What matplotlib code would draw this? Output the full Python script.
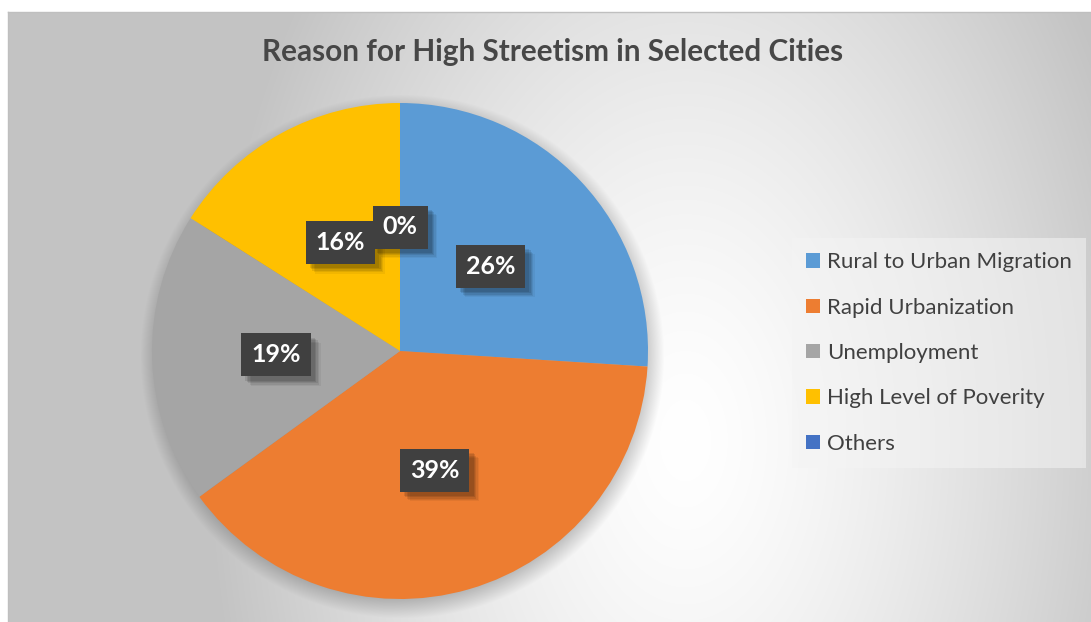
import matplotlib
matplotlib.use('Agg')
import matplotlib.pyplot as plt
import matplotlib.patheffects as pe
import numpy as np

# data
labels = ['Rural to Urban Migration', 'Rapid Urbanization', 'Unemployment',
          'High Level of Poverity', 'Others']
values = [26, 39, 19, 16, 0]
colors = ['#5B9BD5', '#ED7D31', '#A5A5A5', '#FFC000', '#4472C4']
title = 'Reason for High Streetism in Selected Cities'

W, H = 1091, 622
cx, cy, R = 400, 351, 248  # pie centre / radius in pixels

fig = plt.figure(figsize=(W / 100, H / 100), dpi=100)
fig.patch.set_facecolor('white')

# background: radial grey-white gradient + soft pie shadow
bx0, by0 = 8, 12
yy, xx = np.mgrid[by0:H, bx0:W].astype(float)
d = np.sqrt(((xx - 685) / 480.0) ** 2 + ((yy - 440) / 760.0) ** 2)
bg = 255 - 60 * np.clip(d, 0, 1) ** 1.4
dist = np.sqrt((xx - (cx + 2)) ** 2 + (yy - (cy + 5)) ** 2)
blur = 14.0
sh = np.clip((R + blur - dist) / (2 * blur), 0, 1)
bg = bg * (1 - 0.3 * sh)
img = np.dstack([bg, bg, bg]) / 255.0
axbg = fig.add_axes([bx0 / W, 0, 1 - bx0 / W, 1 - by0 / H])
axbg.imshow(img, aspect='auto', interpolation='bilinear')
axbg.axis('off')
# thin border line on top / left
fig.add_artist(plt.Line2D([bx0 / W, 1], [1 - by0 / H, 1 - by0 / H], color='#bfbfbf', lw=1))
fig.add_artist(plt.Line2D([bx0 / W, bx0 / W], [0, 1 - by0 / H], color='#bfbfbf', lw=1))

# pie axes
ax = fig.add_axes([(cx - R) / W, (H - cy - R) / H, 2 * R / W, 2 * R / H])
wedges, texts, autotexts = ax.pie(values, colors=colors, startangle=90, counterclock=False,
                                  autopct='%1.0f%%', pctdistance=0.5, radius=1,
                                  wedgeprops=dict(linewidth=0))
ax.set_xlim(-1, 1)
ax.set_ylim(-1, 1)
ax.axis('off')

shadow = [pe.SimplePatchShadow(offset=(o, -o), shadow_rgbFace='k', alpha=a)
          for o, a in [(7, 0.05), (6, 0.07), (5, 0.09), (4, 0.1), (3, 0.1)]] + [pe.Normal()]
for t in autotexts:
    t.set_fontfamily('Lato')
    t.set_fontweight('bold')
    t.set_fontsize(18)
    t.set_color('white')
    t.set_bbox(dict(boxstyle='square,pad=0.4', facecolor='#404040', edgecolor='none',
                    linewidth=0, path_effects=shadow))

fig.text(553 / W, 1 - 52 / H, title, ha='center', va='center', fontsize=21.4,
         fontweight='bold', color='#474747', fontfamily='Lato')

leg = fig.legend(wedges, labels, loc='upper left', bbox_to_anchor=(792 / W, 1 - 238 / H),
                 frameon=True, fancybox=False, facecolor='#f4f4f4',
                 framealpha=0.55, edgecolor='none', handlelength=0.62, handleheight=0.62,
                 handletextpad=0.3, labelspacing=1.14, borderpad=0.65, borderaxespad=0,
                 prop=dict(family='Lato', size=16))
for txt in leg.get_texts():
    txt.set_color('#404040')

fig.savefig('out.png', dpi=100)
